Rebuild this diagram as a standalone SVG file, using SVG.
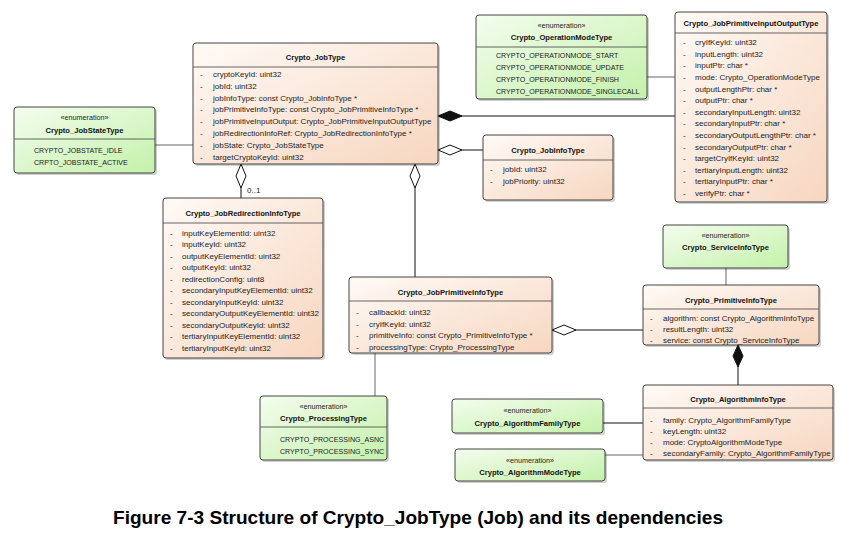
<svg xmlns="http://www.w3.org/2000/svg" width="864" height="538" viewBox="0 0 864 538">
<defs>
<linearGradient id="gc" x1="0" y1="0" x2="1" y2="1">
<stop offset="0" stop-color="#fffaf6"/>
<stop offset="1" stop-color="#f7d6c0"/>
</linearGradient>
<linearGradient id="ge" x1="0" y1="0" x2="1" y2="1">
<stop offset="0" stop-color="#f4fdee"/>
<stop offset="1" stop-color="#c4f1aa"/>
</linearGradient>
</defs>
<style>
text{font-family:"Liberation Sans",Arial,sans-serif;font-size:8px;fill:#222}
.t{font-weight:bold;text-anchor:middle;font-size:7.6px;fill:#111}
.s{text-anchor:middle;font-size:7.2px}
.en{font-size:7.1px}
.c{fill:url(#gc);stroke:#444;stroke-width:1}
.e{fill:url(#ge);stroke:#444;stroke-width:1}
.sh{fill:#000;opacity:0.18}
.sep{stroke:#555;stroke-width:0.9}
.ln{stroke:#111;stroke-width:1;fill:none}
.lg{stroke:#666;stroke-width:1;fill:none}
.dh{fill:#fff;stroke:#111;stroke-width:1}
.df{fill:#111;stroke:#111;stroke-width:1}
.cap{font-family:"Liberation Sans",Arial,sans-serif;font-size:19px;font-weight:bold;fill:#000}
</style>
<rect width="864" height="538" fill="#fff"/>

<g id="connectors">
<line class="lg" x1="155" y1="145" x2="193" y2="145"/>
<line class="lg" x1="647" y1="77" x2="675" y2="77"/>
<line class="ln" x1="438" y1="116" x2="675" y2="116"/>
<polygon class="df" points="438,116 450,111 462,116 450,121"/>
<line class="ln" x1="438" y1="150" x2="483" y2="150"/>
<polygon class="dh" points="438,150 450,145 462,150 450,155"/>
<line class="ln" x1="241" y1="164" x2="241" y2="198"/>
<polygon class="dh" points="241,164 246,176 241,188 236,176"/>
<text x="247" y="193">0..1</text>
<line class="ln" x1="415" y1="164" x2="415" y2="277"/>
<polygon class="dh" points="415,164 420,176 415,188 410,176"/>
<line class="ln" x1="552" y1="330" x2="643" y2="330"/>
<polygon class="dh" points="552,330 564,325 576,330 564,335"/>
<line class="lg" x1="726" y1="268" x2="726" y2="285"/>
<line class="ln" x1="738" y1="345" x2="738" y2="385"/>
<polygon class="df" points="738,345 743,356 738,367 733,356"/>
<line class="lg" x1="375" y1="353" x2="375" y2="396"/>
<line class="ln" x1="603" y1="423" x2="643" y2="423"/>
<line class="lg" x1="605" y1="455" x2="643" y2="455"/>
</g>

<g id="Crypto_JobType">
<rect class="sh" x="195" y="45" width="245" height="121" rx="3"/>
<rect class="c" x="193" y="43" width="245" height="121" rx="3"/>
<text class="t" x="315.5" y="60">Crypto_JobType</text>
<line class="sep" x1="193" y1="67" x2="438" y2="67"/>
<text x="200" y="77">-</text><text x="213" y="77">cryptoKeyId: uint32</text>
<text x="200" y="88.8">-</text><text x="213" y="88.8">jobId: uint32</text>
<text x="200" y="100.6">-</text><text x="213" y="100.6">jobInfoType: const Crypto_JobInfoType *</text>
<text x="200" y="112.4">-</text><text x="213" y="112.4">jobPrimitiveInfoType: const Crypto_JobPrimitiveInfoType *</text>
<text x="200" y="124.2">-</text><text x="213" y="124.2">jobPrimitiveInputOutput: Crypto_JobPrimitiveInputOutputType</text>
<text x="200" y="136">-</text><text x="213" y="136">jobRedirectionInfoRef: Crypto_JobRedirectionInfoType *</text>
<text x="200" y="147.8">-</text><text x="213" y="147.8">jobState: Crypto_JobStateType</text>
<text x="200" y="159.6">-</text><text x="213" y="159.6">targetCryptoKeyId: uint32</text>
</g>

<g id="Crypto_JobStateType">
<rect class="sh" x="16" y="109" width="141" height="66" rx="3"/>
<rect class="e" x="14" y="107" width="141" height="66" rx="3"/>
<text class="s" x="84.5" y="120">«enumeration»</text>
<text class="t" x="84.5" y="132.5">Crypto_JobStateType</text>
<line class="sep" x1="14" y1="139" x2="155" y2="139"/>
<text class="en" x="34" y="153">CRYPTO_JOBSTATE_IDLE</text>
<text class="en" x="34" y="165">CRPTO_JOBSTATE_ACTIVE</text>
</g>

<g id="Crypto_OperationModeType">
<rect class="sh" x="478" y="17" width="171" height="84" rx="3"/>
<rect class="e" x="476" y="15" width="171" height="84" rx="3"/>
<text class="s" x="561.5" y="28">«enumeration»</text>
<text class="t" x="561.5" y="40">Crypto_OperationModeType</text>
<line class="sep" x1="476" y1="47" x2="647" y2="47"/>
<text class="en" x="496" y="58">CRYPTO_OPERATIONMODE_START</text>
<text class="en" x="496" y="70">CRYPTO_OPERATIONMODE_UPDATE</text>
<text class="en" x="496" y="82">CRYPTO_OPERATIONMODE_FINISH</text>
<text class="en" x="496" y="94">CRYPTO_OPERATIONMODE_SINGLECALL</text>
</g>

<g id="Crypto_JobPrimitiveInputOutputType">
<rect class="sh" x="677" y="14" width="152" height="190" rx="3"/>
<rect class="c" x="675" y="12" width="152" height="190" rx="3"/>
<text class="t" x="751" y="25.5">Crypto_JobPrimitiveInputOutputType</text>
<line class="sep" x1="675" y1="33" x2="827" y2="33"/>
<text x="683" y="45.3">-</text><text x="695" y="45.3">cryIfKeyId: uint32</text>
<text x="683" y="56.9">-</text><text x="695" y="56.9">inputLength: uint32</text>
<text x="683" y="68.4">-</text><text x="695" y="68.4">inputPtr: char *</text>
<text x="683" y="80">-</text><text x="695" y="80">mode: Crypto_OperationModeType</text>
<text x="683" y="91.6">-</text><text x="695" y="91.6">outputLengthPtr: char *</text>
<text x="683" y="103.2">-</text><text x="695" y="103.2">outputPtr: char *</text>
<text x="683" y="114.7">-</text><text x="695" y="114.7">secondaryInputLength: uint32</text>
<text x="683" y="126.3">-</text><text x="695" y="126.3">secondaryInputPtr: char *</text>
<text x="683" y="137.9">-</text><text x="695" y="137.9">secondaryOutputLengthPtr: char *</text>
<text x="683" y="149.5">-</text><text x="695" y="149.5">secondaryOutputPtr: char *</text>
<text x="683" y="161">-</text><text x="695" y="161">targetCryIfKeyId: uint32</text>
<text x="683" y="172.6">-</text><text x="695" y="172.6">tertiaryInputLength: uint32</text>
<text x="683" y="184.2">-</text><text x="695" y="184.2">tertiaryInputPtr: char *</text>
<text x="683" y="195.8">-</text><text x="695" y="195.8">verifyPtr: char *</text>
</g>

<g id="Crypto_JobInfoType">
<rect class="sh" x="485" y="137" width="130" height="65" rx="3"/>
<rect class="c" x="483" y="135" width="130" height="65" rx="3"/>
<text class="t" x="548" y="153">Crypto_JobInfoType</text>
<line class="sep" x1="483" y1="160" x2="613" y2="160"/>
<text x="490" y="172">-</text><text x="503" y="172">jobId: uint32</text>
<text x="490" y="183.5">-</text><text x="503" y="183.5">jobPriority: uint32</text>
</g>

<g id="Crypto_JobRedirectionInfoType">
<rect class="sh" x="165" y="200" width="160" height="160" rx="3"/>
<rect class="c" x="163" y="198" width="160" height="160" rx="3"/>
<text class="t" x="243" y="216">Crypto_JobRedirectionInfoType</text>
<line class="sep" x1="163" y1="223" x2="323" y2="223"/>
<text x="170" y="235.7">-</text><text x="182" y="235.7">inputKeyElementId: uint32</text>
<text x="170" y="247.2">-</text><text x="182" y="247.2">inputKeyId: uint32</text>
<text x="170" y="258.7">-</text><text x="182" y="258.7">outputKeyElementId: uint32</text>
<text x="170" y="270.2">-</text><text x="182" y="270.2">outputKeyId: uint32</text>
<text x="170" y="281.7">-</text><text x="182" y="281.7">redirectionConfig: uint8</text>
<text x="170" y="293.2">-</text><text x="182" y="293.2">secondaryInputKeyElementId: uint32</text>
<text x="170" y="304.7">-</text><text x="182" y="304.7">secondaryInputKeyId: uint32</text>
<text x="170" y="316.2">-</text><text x="182" y="316.2">secondaryOutputKeyElementId: uint32</text>
<text x="170" y="327.7">-</text><text x="182" y="327.7">secondaryOutputKeyId: uint32</text>
<text x="170" y="339.2">-</text><text x="182" y="339.2">tertiaryInputKeyElementId: uint32</text>
<text x="170" y="350.7">-</text><text x="182" y="350.7">tertiaryInputKeyId: uint32</text>
</g>

<g id="Crypto_JobPrimitiveInfoType">
<rect class="sh" x="351" y="279" width="203" height="76" rx="3"/>
<rect class="c" x="349" y="277" width="203" height="76" rx="3"/>
<text class="t" x="450.5" y="295">Crypto_JobPrimitiveInfoType</text>
<line class="sep" x1="349" y1="301" x2="552" y2="301"/>
<text x="356" y="315">-</text><text x="369" y="315">callbackId: uint32</text>
<text x="356" y="326.5">-</text><text x="369" y="326.5">cryIfKeyId: uint32</text>
<text x="356" y="338">-</text><text x="369" y="338">primitiveInfo: const Crypto_PrimitiveInfoType *</text>
<text x="356" y="349.5">-</text><text x="369" y="349.5">processingType: Crypto_ProcessingType</text>
</g>

<g id="Crypto_ServiceInfoType">
<rect class="sh" x="665" y="227" width="125" height="43" rx="3"/>
<rect class="e" x="663" y="225" width="125" height="43" rx="3"/>
<text class="s" x="725.5" y="238">«enumeration»</text>
<text class="t" x="725.5" y="250">Crypto_ServiceInfoType</text>
</g>

<g id="Crypto_PrimitiveInfoType">
<rect class="sh" x="645" y="287" width="176" height="60" rx="3"/>
<rect class="c" x="643" y="285" width="176" height="60" rx="3"/>
<text class="t" x="731" y="302.5">Crypto_PrimitiveInfoType</text>
<line class="sep" x1="643" y1="309" x2="819" y2="309"/>
<text x="650" y="321">-</text><text x="663" y="321">algorithm: const Crypto_AlgorithmInfoType</text>
<text x="650" y="332">-</text><text x="663" y="332">resultLength: uint32</text>
<text x="650" y="343">-</text><text x="663" y="343">service: const Crypto_ServiceInfoType</text>
</g>

<g id="Crypto_AlgorithmInfoType">
<rect class="sh" x="645" y="387" width="190" height="75" rx="3"/>
<rect class="c" x="643" y="385" width="190" height="75" rx="3"/>
<text class="t" x="738" y="401.5">Crypto_AlgorithmInfoType</text>
<line class="sep" x1="643" y1="408" x2="833" y2="408"/>
<text x="650" y="423">-</text><text x="663" y="423">family: Crypto_AlgorithmFamilyType</text>
<text x="650" y="434">-</text><text x="663" y="434">keyLength: uint32</text>
<text x="650" y="445">-</text><text x="663" y="445">mode: CryptoAlgorithmModeType</text>
<text x="650" y="456">-</text><text x="663" y="456">secondaryFamily: Crypto_AlgorithmFamilyType</text>
</g>

<g id="Crypto_AlgorithmFamilyType">
<rect class="sh" x="454" y="401" width="151" height="34" rx="3"/>
<rect class="e" x="452" y="399" width="151" height="34" rx="3"/>
<text class="s" x="527.5" y="413">«enumeration»</text>
<text class="t" x="527.5" y="425.5">Crypto_AlgorithmFamilyType</text>
</g>

<g id="Crypto_AlgorithmModeType">
<rect class="sh" x="457" y="451" width="150" height="32" rx="3"/>
<rect class="e" x="455" y="449" width="150" height="32" rx="3"/>
<text class="s" x="530" y="463">«enumeration»</text>
<text class="t" x="530" y="475">Crypto_AlgorithmModeType</text>
</g>

<g id="Crypto_ProcessingType">
<rect class="sh" x="262" y="398" width="127" height="64" rx="3"/>
<rect class="e" x="260" y="396" width="127" height="64" rx="3"/>
<text class="s" x="323.5" y="409">«enumeration»</text>
<text class="t" x="323.5" y="421">Crypto_ProcessingType</text>
<line class="sep" x1="260" y1="427" x2="387" y2="427"/>
<text class="en" x="280" y="442">CRYPTO_PROCESSING_ASNC</text>
<text class="en" x="280" y="454">CRYPTO_PROCESSING_SYNC</text>
</g>

<text class="cap" x="113" y="524" textLength="610" lengthAdjust="spacingAndGlyphs">Figure 7-3 Structure of Crypto_JobType (Job) and its dependencies</text>
</svg>
